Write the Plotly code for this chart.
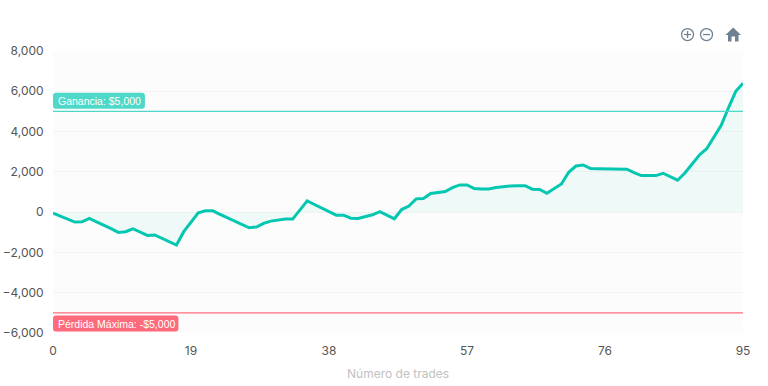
import plotly.graph_objects as go

equity = [-50, -200, -350, -495, -480, -310, -480, -640, -820, -1005, -970, -825, -990, -1155, -1130, -1290, -1460, -1635,
          -970, -480, -30, 65, 65, -110, -280, -440, -610, -775, -740, -560, -445, -380, -345, -345, 110, 560,
          380, 200, 30, -150, -150, -300, -310, -230, -130, 30, -150, -330, 130, 300, 660, 680, 925, 960, 1020, 1220,
          1350, 1350, 1170, 1155, 1155, 1220, 1270, 1300, 1310, 1310, 1140, 1130, 940, 1190, 1400, 1980, 2290, 2340,
          2160, 2150, 2150, 2150, 2150, 2130, 1960, 1815, 1815, 1815, 1930, 1750, 1585, 1945, 2390, 2840, 3150, 3730,
          4310, 5180, 6000, 6400]
trades = list(range(len(equity)))
x_ticks = [0, 19, 38, 57, 76, 95]
y_ticks = [-6000, -4000, -2000, 0, 2000, 4000, 6000, 8000]
profit_target = 5000
max_loss = -5000
profit_label = "Ganancia: $5,000"
loss_label = "Pérdida Máxima: -$5,000"
x_title = "Número de trades"

W, H = 768, 386
L, R, T, B = 53, 743.5, 50.5, 333.5
TICK_FONT = "Inter"
TEAL = "#05c7b1"
TARGET = "#4dd8c8"
LOSS = "#ff6b7d"
ICON = "#6e8192"


def px(x):
    return (x - L) / (R - L)


def py(y):
    return (B - y) / (B - T)


def rounded(x0, y0, x1, y1, r=3):
    a, b, c, d = px(x0), px(x1), py(y0), py(y1)
    rx, ry = r / (R - L), r / (B - T)
    return (f"M{a + rx},{c} L{b - rx},{c} Q{b},{c} {b},{c - ry} L{b},{d + ry} Q{b},{d} {b - rx},{d} "
            f"L{a + rx},{d} Q{a},{d} {a},{d + ry} L{a},{c - ry} Q{a},{c} {a + rx},{c} Z")


fig = go.Figure()
fig.add_trace(go.Scatter(x=trades, y=equity, mode="lines", fill="tozeroy",
                         fillcolor="rgba(0,201,177,0.05)",
                         line=dict(color=TEAL, width=3), hoverinfo="x+y", cliponaxis=False))

shapes = [
    dict(type="line", xref="paper", yref="y", x0=0, x1=1, y0=profit_target, y1=profit_target,
         line=dict(color=TARGET, width=1.2)),
    dict(type="line", xref="paper", yref="y", x0=0, x1=1, y0=max_loss, y1=max_loss,
         line=dict(color=LOSS, width=1.2)),
]
for path, color in ((rounded(53, 92.5, 145, 108.5), TARGET), (rounded(53, 316, 178.5, 332), LOSS)):
    shapes.append(dict(type="path", xref="paper", yref="paper", path=path, fillcolor=color,
                       line=dict(width=0), layer="above"))

# toolbar icons
for cx in (688, 707):
    shapes.append(dict(type="circle", xref="paper", yref="paper", x0=px(cx - 6), x1=px(cx + 6),
                       y0=py(34 + 6), y1=py(34 - 6), line=dict(color=ICON, width=1.3)))
    shapes.append(dict(type="line", xref="paper", yref="paper", x0=px(cx - 3.5), x1=px(cx + 3.5),
                       y0=py(34), y1=py(34), line=dict(color=ICON, width=1.3)))
shapes.append(dict(type="line", xref="paper", yref="paper", x0=px(688), x1=px(688),
                   y0=py(30.5), y1=py(37.5), line=dict(color=ICON, width=1.3)))
house = [(733.7, 27), (741.5, 34.5), (739, 34.5), (739, 41), (735.5, 41), (735.5, 36), (732, 36), (732, 41),
         (728.5, 41), (728.5, 34.5), (726, 34.5)]
shapes.append(dict(type="path", xref="paper", yref="paper", fillcolor=ICON, line=dict(width=0),
                   path="M" + " L".join(f"{px(a)},{py(b)}" for a, b in house) + " Z"))

annotations = [
    dict(xref="paper", yref="paper", x=px(57), y=py(100.5), text=profit_label, showarrow=False, xanchor="left",
         yanchor="middle", borderpad=0, font=dict(family="Liberation Sans", size=10.5, color="#ffffff")),
    dict(xref="paper", yref="paper", x=px(57), y=py(324), text=loss_label, showarrow=False, xanchor="left",
         yanchor="middle", borderpad=0, font=dict(family="Liberation Sans", size=10.5, color="#ffffff")),
    dict(xref="paper", yref="paper", x=px(398.5), y=py(374), text=x_title, showarrow=False, xanchor="center",
         yanchor="middle", font=dict(family=TICK_FONT, size=12, color="#c2c2c2")),
]

fig.update_layout(
    width=W, height=H, autosize=False, showlegend=False,
    margin=dict(l=L, r=W - R, t=T, b=H - B, pad=0, autoexpand=False),
    paper_bgcolor="#ffffff", plot_bgcolor="#fcfcfc",
    shapes=shapes, annotations=annotations,
    xaxis=dict(range=[0, 95], automargin=False, tickmode="array", tickvals=x_ticks, showgrid=False, zeroline=False,
               showline=False, ticks="outside", ticklen=7, tickcolor="rgba(0,0,0,0)",
               tickfont=dict(family=TICK_FONT, size=12, color="#555555")),
    yaxis=dict(range=[-6000, 8000], automargin=False, tickmode="array", tickvals=y_ticks, tickformat=",d", showgrid=True,
               gridcolor="#f4f4f4", gridwidth=1, zeroline=False, showline=False, ticks="outside", ticklen=6,
               tickcolor="rgba(0,0,0,0)", tickfont=dict(family=TICK_FONT, size=12, color="#555555")),
)
fig.write_html("out.html", config=dict(displayModeBar=False),
               post_script="document.body.style.margin='0';document.documentElement.style.overflow='hidden';")
